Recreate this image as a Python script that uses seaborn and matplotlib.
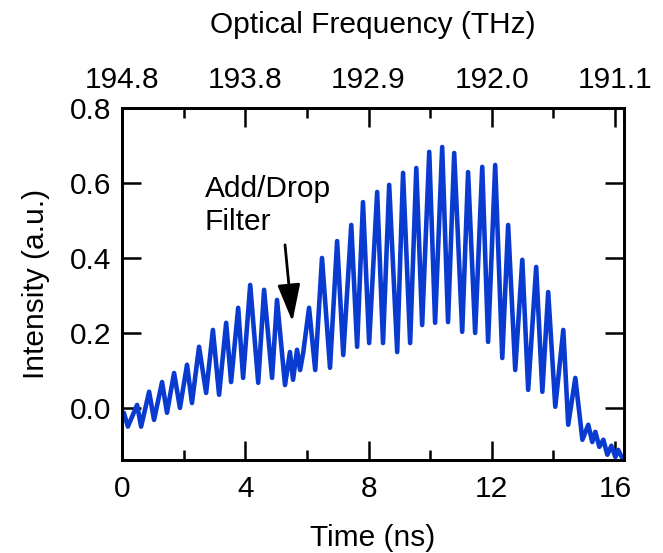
import matplotlib
matplotlib.use("Agg")
import matplotlib.pyplot as plt
import seaborn as sns
import pandas as pd

# ---- data (successive extrema of the trace) ----
time_ns = [0.00, 0.06, 0.19, 0.49, 0.62, 0.88, 1.04, 1.30, 1.46, 1.69, 1.88, 2.11, 2.27, 2.50,
           2.73, 2.95, 3.15, 3.38, 3.54, 3.77, 3.93, 4.16, 4.42, 4.61, 4.87, 5.03, 5.29, 5.45,
           5.55, 5.68, 5.78, 5.88, 6.07, 6.27, 6.49, 6.75, 6.98, 7.18, 7.44, 7.63, 7.82, 8.02,
           8.28, 8.47, 8.67, 8.93, 9.12, 9.35, 9.55, 9.74, 9.97, 10.16, 10.39, 10.58, 10.78,
           11.04, 11.23, 11.46, 11.69, 11.88, 12.11, 12.34, 12.53, 12.76, 12.99, 13.18, 13.44,
           13.64, 13.83, 14.06, 14.32, 14.48, 14.71, 14.94, 15.13, 15.26, 15.36, 15.49, 15.62,
           15.75, 15.88, 16.01, 16.10, 16.23]
intensity = [-0.027, -0.013, -0.050, 0.008, -0.050, 0.043, -0.032, 0.069, -0.013, 0.093, 0.000,
             0.115, 0.013, 0.163, 0.040, 0.208, 0.035, 0.227, 0.069, 0.267, 0.080, 0.328, 0.067,
             0.315, 0.080, 0.288, 0.061, 0.149, 0.075, 0.155, 0.101, 0.147, 0.267, 0.101, 0.400,
             0.107, 0.445, 0.141, 0.488, 0.163, 0.549, 0.173, 0.576, 0.173, 0.595, 0.149, 0.627,
             0.173, 0.640, 0.221, 0.683, 0.227, 0.696, 0.229, 0.680, 0.203, 0.629, 0.200, 0.643,
             0.176, 0.648, 0.133, 0.488, 0.101, 0.395, 0.048, 0.376, 0.043, 0.309, 0.003, 0.208,
             -0.045, 0.080, -0.085, -0.045, -0.091, -0.064, -0.104, -0.085, -0.125, -0.101,
             -0.131, -0.112, -0.133]

time_ticks = [0, 4, 8, 12, 16]
time_minor_ticks = [2, 6, 10, 14]
freq_labels = ["194.8", "193.8", "192.9", "192.0", "191.1"]
y_ticks = [0.0, 0.2, 0.4, 0.6, 0.8]
y_tick_labels = ["0.0", "0.2", "0.4", "0.6", "0.8"]

# ---- style ----
sns.set_style("ticks")
plt.rcParams["font.family"] = ["Liberation Sans", "DejaVu Sans"]
plt.rcParams["text.color"] = "black"
plt.rcParams["axes.labelcolor"] = "black"
FS = 21.5
LINE_COLOR = "#0a3bd0"

fig = plt.figure(figsize=(6.63, 5.53), dpi=100)
ax = fig.add_axes([122 / 663, 1 - 460 / 553, (624 - 122) / 663, (460 - 108) / 553])

df = pd.DataFrame({"t": time_ns, "I": intensity})
sns.lineplot(data=df, x="t", y="I", ax=ax, color=LINE_COLOR, linewidth=3.3,
             sort=False, estimator=None)
for ln in ax.lines:
    ln.set_solid_joinstyle("round")
    ln.set_solid_capstyle("round")

ax.set_xlim(0, 16.29)
ax.set_ylim(-0.139, 0.8)

ax.set_xticks(time_ticks)
ax.set_xticks(time_minor_ticks, minor=True)
ax.set_xticklabels([str(t) for t in time_ticks])
ax.set_yticks(y_ticks)
ax.set_yticklabels(y_tick_labels)

for s in ax.spines.values():
    s.set_visible(True)
    s.set_linewidth(2.0)
    s.set_color("black")

ax.tick_params(axis="both", which="major", direction="in", length=14, width=1.8,
               labelsize=FS, colors="black", top=True, right=True, labeltop=False)
ax.tick_params(axis="x", which="minor", direction="in", length=7, width=1.8,
               top=True, bottom=True, colors="black")
ax.tick_params(axis="x", which="major", pad=11)
ax.tick_params(axis="y", which="major", pad=8)

ax.set_xlabel("Time (ns)", fontsize=FS, labelpad=15, color="black")
ax.set_ylabel("Intensity (a.u.)", fontsize=FS, labelpad=14, color="black")

# top axis: optical frequency
ax_top = ax.twiny()
ax_top.set_xlim(ax.get_xlim())
ax_top.set_xticks(time_ticks)
ax_top.set_xticks(time_minor_ticks, minor=True)
ax_top.set_xticklabels(freq_labels)
ax_top.tick_params(axis="x", which="major", direction="in", length=14, width=1.8,
                   labelsize=FS, pad=10, colors="black")
ax_top.tick_params(axis="x", which="minor", direction="in", length=7, width=1.8,
                   colors="black")
ax_top.set_xlabel("Optical Frequency (THz)", fontsize=FS, labelpad=24, color="black")
for s in ax_top.spines.values():
    s.set_linewidth(2.0)
    s.set_color("black")

# annotation
ax.text(2.69, 0.54, "Add/Drop\nFilter", fontsize=FS, ha="left", va="center",
        linespacing=1.2, color="black")
ax.annotate("", xy=(5.53, 0.230), xytext=(5.29, 0.435),
            arrowprops=dict(arrowstyle="-|>,head_length=2.3,head_width=0.7",
                            color="black", lw=2.0, shrinkA=0, shrinkB=0))

fig.savefig("out.png", dpi=100)
